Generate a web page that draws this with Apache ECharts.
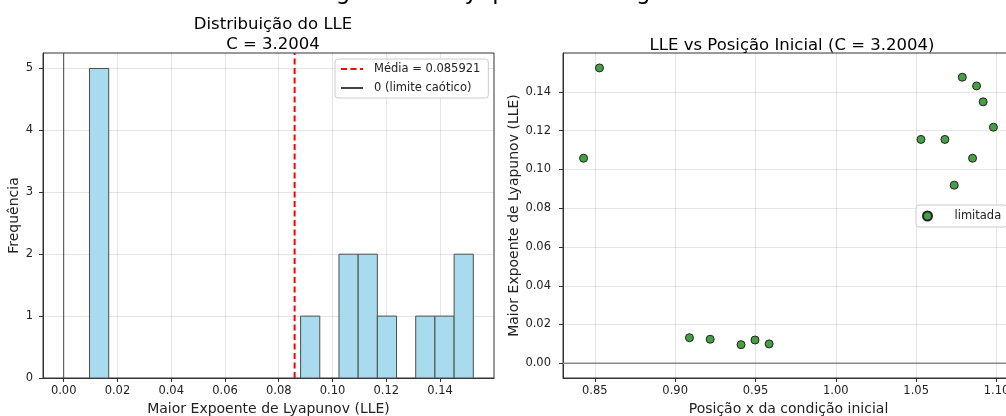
<!DOCTYPE html>
<html>
<head>
<meta charset="utf-8">
<script src="https://cdn.jsdelivr.net/npm/echarts@6/dist/echarts.min.js"></script>
<style>
html, body { margin: 0; padding: 0; background: #fff; }
#chart { width: 1006px; height: 416px; }
</style>
</head>
<body>
<div id="chart"></div>
<script>
// histograma do LLE: 20 classes entre o menor e o maior valor
var histCounts = [5, 0, 0, 0, 0, 0, 0, 0, 0, 0, 0, 1, 0, 2, 2, 1, 0, 1, 1, 2];

// posicao inicial x e LLE de cada orbita (todas "limitada")
var posX    = [0.8430, 0.8529, 0.9089, 0.9218, 0.9410, 0.9497, 0.9585, 1.0530, 1.0679, 1.0737, 1.0787, 1.0851, 1.0876, 1.0917, 1.0981];
var lleVals = [0.1058, 0.1524, 0.0132, 0.0124, 0.0096, 0.0120, 0.0100, 0.1155, 0.1155, 0.0919, 0.1476, 0.1058, 0.1431, 0.1349, 0.1218];

var meanLLE = 0.085921;

// ticks
var histTicks = [0, 0.02, 0.04, 0.06, 0.08, 0.10, 0.12, 0.14];
var freqTicks = [0, 1, 2, 3, 4, 5];
var posTicks  = [0.85, 0.90, 0.95, 1.00, 1.05, 1.10];
var lleTicks  = [0, 0.02, 0.04, 0.06, 0.08, 0.10, 0.12, 0.14];

var FONT = 'DejaVu Sans';

// limites dos eixos (como o matplotlib deixou)
var histXMin = -0.0077, histXMax = 0.1601;
var freqMax = 5.25;
var posXMin = 0.8302, posXMax = 1.1109;
var lleYMin = -0.0076, lleYMax = 0.1601;

/**
 * monta as classes do histograma [inicio, fim, contagem]
 */
function getHistData() {
	var lo = Math.min.apply(null, lleVals);
	var hi = Math.max.apply(null, lleVals);
	var w = (hi - lo) / histCounts.length;
	var data = [];
	for (var i = 0; i < histCounts.length; i++) {
		data.push([lo + i * w, lo + (i + 1) * w, histCounts[i]]);
	}
	return data;
}

function renderBar(params, api) {
	var n = api.value(2);
	if (n <= 0) return null;
	var p0 = api.coord([api.value(0), 0]);
	var p1 = api.coord([api.value(1), n]);
	return {
		type: 'rect',
		shape: { x: p0[0], y: p1[1], width: p1[0] - p0[0], height: p0[1] - p1[1] },
		style: { fill: '#a9dbee', stroke: '#4d4d4d', lineWidth: 1 }
	};
}

function fix2(v) { return v.toFixed(2); }

function valueAxis(grid, min, max, ticks, fmt, name, nameGap, labelMargin) {
	return {
		type: 'value',
		gridIndex: grid,
		min: min,
		max: max,
		name: name,
		nameLocation: 'middle',
		nameGap: nameGap,
		nameTextStyle: { fontFamily: FONT, fontSize: 14, color: '#222' },
		axisLine: { show: true, onZero: false, lineStyle: { color: '#333', width: 1 } },
		axisTick: { show: true, length: 4, customValues: ticks, lineStyle: { color: '#333' } },
		axisLabel: {
			customValues: ticks,
			formatter: fmt,
			margin: labelMargin,
			fontFamily: FONT,
			fontSize: 11.5,
			color: '#222'
		},
		splitLine: { show: true, lineStyle: { color: 'rgba(0,0,0,0.1)', width: 1 } }
	};
}

var chart = echarts.init(document.getElementById('chart'));

var options = {
	animation: false,
	backgroundColor: '#fff',
	textStyle: { fontFamily: FONT },
	graphic: [{
		type: 'text',
		x: 277,
		y: -7,
		style: {
			text: 'Histograma de Lyapunov na Região',
			fontFamily: FONT,
			fontSize: 23,
			fill: '#000',
			align: 'left',
			verticalAlign: 'middle'
		}
	}],
	title: [{
		text: 'Distribuição do LLE\nC = 3.2004',
		left: 268,
		top: 10,
		textAlign: 'center',
		textStyle: { fontFamily: FONT, fontSize: 16.5, fontWeight: 'normal', color: '#000', lineHeight: 20 }
	}, {
		text: 'LLE vs Posição Inicial (C = 3.2004)',
		left: 787,
		top: 31,
		textAlign: 'center',
		textStyle: { fontFamily: FONT, fontSize: 16.5, fontWeight: 'normal', color: '#000', lineHeight: 20 }
	}],
	legend: [{
		orient: 'vertical',
		left: 335,
		top: 59,
		padding: [4, 8, 4, 5],
		itemGap: 7,
		itemWidth: 22,
		itemHeight: 12,
		itemStyle: { opacity: 0 },
		backgroundColor: 'rgba(255,255,255,0.85)',
		borderColor: '#ccc',
		borderWidth: 1,
		borderRadius: 3,
		textStyle: { fontFamily: FONT, fontSize: 11.5, color: '#222', padding: [0, 0, 0, 6] },
		data: ['Média = ' + meanLLE, '0 (limite caótico)']
	}, {
		left: 916,
		top: 205,
		padding: [5, 6],
		itemWidth: 20,
		itemHeight: 9,
		backgroundColor: 'rgba(255,255,255,0.85)',
		borderColor: '#ccc',
		borderWidth: 1,
		borderRadius: 3,
		textStyle: { fontFamily: FONT, fontSize: 11.5, color: '#222', padding: [0, 0, 0, 12] },
		data: [{ name: 'limitada', icon: 'circle' }]
	}],
	grid: [
		{ left: 43, top: 53, width: 451, height: 325, show: true, borderColor: '#333', borderWidth: 1, containLabel: false, outerBoundsMode: 'none' },
		{ left: 563, top: 53, width: 451, height: 325, show: true, borderColor: '#333', borderWidth: 1, containLabel: false, outerBoundsMode: 'none' }
	],
	xAxis: [
		valueAxis(0, histXMin, histXMax, histTicks, fix2, 'Maior Expoente de Lyapunov (LLE)', 24, 7),
		valueAxis(1, posXMin, posXMax, posTicks, fix2, 'Posição x da condição inicial', 24, 7)
	],
	yAxis: [
		valueAxis(0, 0, freqMax, freqTicks, function(v) { return '' + v; }, 'Frequência', 20, 10),
		valueAxis(1, lleYMin, lleYMax, lleTicks, fix2, 'Maior Expoente de Lyapunov (LLE)', 42, 12)
	],
	series: [{
		type: 'custom',
		name: 'hist',
		xAxisIndex: 0,
		yAxisIndex: 0,
		renderItem: renderBar,
		encode: { x: [0, 1], y: 2 },
		data: getHistData(),
		z: 2
	}, {
		type: 'line',
		name: 'Média = ' + meanLLE,
		xAxisIndex: 0,
		yAxisIndex: 0,
		data: [[meanLLE, 0], [meanLLE, freqMax]],
		symbol: 'none',
		silent: true,
		lineStyle: { color: '#ff0000', width: 2, type: [6, 3.5] },
		itemStyle: { color: '#ff0000' },
		z: 4
	}, {
		type: 'line',
		name: '0 (limite caótico)',
		xAxisIndex: 0,
		yAxisIndex: 0,
		data: [[0, 0], [0, freqMax]],
		symbol: 'none',
		silent: true,
		lineStyle: { color: '#444', width: 1 },
		itemStyle: { color: '#444' },
		z: 3
	}, {
		type: 'line',
		name: 'zero',
		xAxisIndex: 1,
		yAxisIndex: 1,
		data: [[posXMin, 0], [posXMax, 0]],
		symbol: 'none',
		silent: true,
		lineStyle: { color: '#8a8a8a', width: 1.5 },
		z: 2
	}, {
		type: 'scatter',
		name: 'limitada',
		xAxisIndex: 1,
		yAxisIndex: 1,
		data: posX.map(function(x, i) { return [x, lleVals[i]]; }),
		symbolSize: 8,
		itemStyle: { color: '#45a045', borderColor: '#222', borderWidth: 1, opacity: 1 },
		z: 3
	}]
};

chart.setOption(options);
</script>
</body>
</html>
